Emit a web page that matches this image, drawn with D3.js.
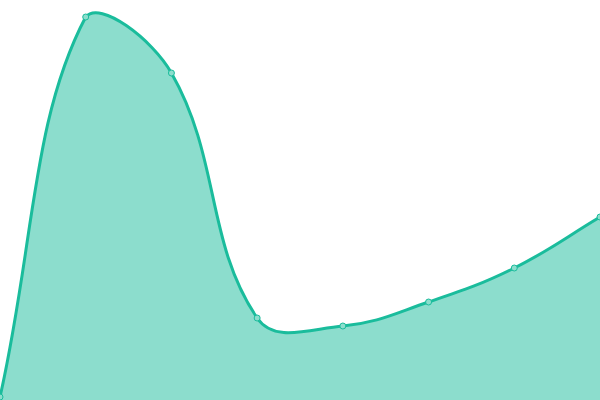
<!DOCTYPE html>
<html lang="en">
<head>
    <meta charset="UTF-8">
    <title>Area chart</title>
    <style>
        body { margin: 0; background: #fff; }
        .area { fill: rgba(26, 188, 156, 0.5); }
        .line { fill: none; stroke: #1abc9c; stroke-width: 3px; }
        .dot { fill: #8cdecd; stroke: #1abc9c; stroke-width: 1px; }
    </style>
</head>
<body>
    <div id="chart"></div>
    <script src="https://d3js.org/d3.v7.min.js"></script>
    <script>
        const categories = ["A", "B", "C", "D", "E", "F", "G", "H"];
        const values = [3, 383, 327, 82, 74, 98, 132, 183];

        const width = 600, height = 400;

        // spline with tension, control points kept inside the plot box
        function SplineCurve(context) {
            this._context = context;
            this._tension = 0.4;
        }
        SplineCurve.prototype = {
            areaStart() { this._line = 0; },
            areaEnd() { this._line = NaN; },
            lineStart() { this._pts = []; },
            point(x, y) { this._pts.push([+x, +y]); },
            lineEnd() {
                const p = this._pts, n = p.length, t = this._tension, ctx = this._context;
                if (n) {
                    const cap = (v, lo, hi) => Math.max(lo, Math.min(hi, v));
                    const cps = p.map((cur, i) => {
                        const prev = p[Math.max(i - 1, 0)], next = p[Math.min(i + 1, n - 1)];
                        const d01 = Math.hypot(cur[0] - prev[0], cur[1] - prev[1]);
                        const d12 = Math.hypot(next[0] - cur[0], next[1] - cur[1]);
                        let s01 = d01 / (d01 + d12), s12 = d12 / (d01 + d12);
                        if (isNaN(s01)) s01 = 0;
                        if (isNaN(s12)) s12 = 0;
                        const fa = t * s01, fb = t * s12;
                        return {
                            px: cap(cur[0] - fa * (next[0] - prev[0]), 0, width),
                            py: cap(cur[1] - fa * (next[1] - prev[1]), 0, height),
                            nx: cap(cur[0] + fb * (next[0] - prev[0]), 0, width),
                            ny: cap(cur[1] + fb * (next[1] - prev[1]), 0, height)
                        };
                    });
                    if (this._line) ctx.lineTo(p[0][0], p[0][1]);
                    else ctx.moveTo(p[0][0], p[0][1]);
                    for (let i = 1; i < n; i++) {
                        ctx.bezierCurveTo(cps[i - 1].nx, cps[i - 1].ny, cps[i].px, cps[i].py, p[i][0], p[i][1]);
                    }
                }
                if (this._line || (this._line !== 0 && n === 1)) ctx.closePath();
                this._line = 1 - this._line;
            }
        };
        const curveSpline = context => new SplineCurve(context);

        const svg = d3.select("#chart").append("svg")
            .attr("width", width)
            .attr("height", height);

        // x spans the full width, first and last points on the edges
        const x = d3.scalePoint().domain(categories).range([0, width]);
        const y = d3.scaleLinear().domain([0, 400]).range([height, 0]);

        const data = categories.map((c, i) => ({ c, v: values[i] }));

        svg.append("path")
            .datum(data)
            .attr("class", "area")
            .attr("d", d3.area()
                .x(d => x(d.c))
                .y0(y(0))
                .y1(d => y(d.v))
                .curve(curveSpline));

        svg.append("path")
            .datum(data)
            .attr("class", "line")
            .attr("d", d3.line()
                .x(d => x(d.c))
                .y(d => y(d.v))
                .curve(curveSpline));

        svg.selectAll(".dot")
            .data(data)
            .enter().append("circle")
            .attr("class", "dot")
            .attr("cx", d => x(d.c))
            .attr("cy", d => y(d.v))
            .attr("r", 3);
    </script>
</body>
</html>
